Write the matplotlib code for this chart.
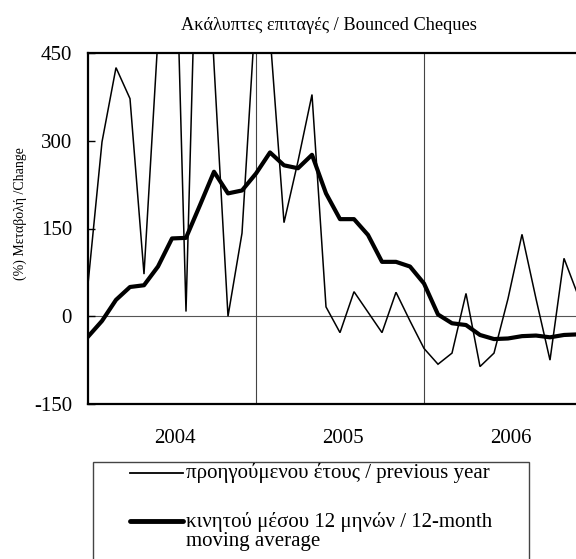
import matplotlib
matplotlib.use("Agg")
import matplotlib.pyplot as plt
from matplotlib.patches import Rectangle
from matplotlib.lines import Line2D
import numpy as np

plt.rcParams['font.family'] = ['Liberation Serif', 'DejaVu Serif']

# Monthly data, Jan 2004 .. Dec 2006 (index 0..35)
prev_year = [55, 298, 425, 372, 72, 478, 892, 8, 892, 430, 0, 142,
             534, 482, 160, 265, 379, 16, -28, 42, 7, -28, 41, -8,
             -55, -82, -63, 39, -86, -63, 30, 140, 30, -75, 99, 36]
moving_avg = [-35, -8, 28, 50, 53, 85, 133, 134, 190, 247, 210, 215,
              244, 280, 258, 253, 276, 210, 166, 166, 139, 93, 93, 85,
              56, 3, -12, -15, -32, -39, -38, -34, -33, -36, -32, -31]
years = ['2004', '2005', '2006']
yticks = [-150, 0, 150, 300, 450]

title = "Ακάλυπτες επιταγές / Bounced Cheques"
ylabel = "(%) Μεταβολή /Change"
leg1 = "προηγούμενου έτους / previous year"
leg2 = "κινητού μέσου 12 μηνών / 12-month\nmoving average"

W, H = 576, 559
fig = plt.figure(figsize=(W / 100, H / 100), dpi=100)

def fx(px):
    return px / W

def fy(py):
    return 1 - py / H

left, right, top, bottom = 88, 578, 53, 404
ax = fig.add_axes([fx(left), fy(bottom), fx(right - left), (bottom - top) / H])

x = np.arange(len(prev_year))
ax.plot(x, prev_year, color='black', lw=1.1, solid_joinstyle='miter', zorder=3)
ax.plot(x, moving_avg, color='black', lw=3.0, solid_joinstyle='round', zorder=4)

ax.set_xlim(0, len(prev_year) - 1)
ax.set_ylim(-150, 450)
ax.axhline(0, color='#555555', lw=0.8, zorder=1)
for xv in [12, 24]:
    ax.axvline(xv, color='#444444', lw=0.8, zorder=1)

ax.set_yticks(yticks)
ax.set_yticklabels([str(v) for v in yticks])
ax.tick_params(axis='y', direction='in', length=5, width=1, pad=11.5, labelsize=15)
ax.set_xticks([])
ax.set_xticks([6.2, 18.2, 30.2], minor=True)
ax.set_xticklabels(years, minor=True)
ax.tick_params(axis='x', which='minor', length=0, pad=18, labelsize=15)

for s in ['left', 'bottom', 'top']:
    ax.spines[s].set_linewidth(1.6)
ax.spines['right'].set_visible(False)

fig.text(fx(328.5), fy(25), title, ha='center', va='center', fontsize=13.2)
fig.text(fx(20), fy(214), ylabel, ha='center', va='center', rotation=90, fontsize=10)

# Legend box
fig.patches.append(Rectangle((fx(93), fy(575)), fx(529 - 93), (575 - 462) / H,
                             transform=fig.transFigure, fill=False,
                             edgecolor='#444444', lw=1.0))
fig.lines.append(Line2D([fx(130), fx(183)], [fy(473), fy(473)],
                        transform=fig.transFigure, color='black', lw=1.3))
fig.lines.append(Line2D([fx(130), fx(183)], [fy(521), fy(521)],
                        transform=fig.transFigure, color='black', lw=3.5,
                        solid_capstyle='round'))
fig.text(fx(186), fy(473), leg1, ha='left', va='center', fontsize=15)
fig.text(fx(186), fy(512), leg2, ha='left', va='top', fontsize=15,
         linespacing=1.0)

fig.savefig("out.png", dpi=100)
